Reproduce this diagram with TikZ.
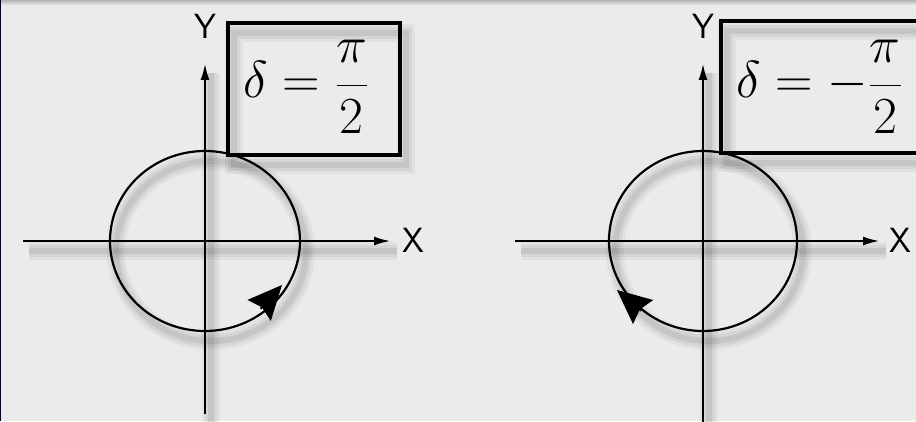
\documentclass[tikz,border=0pt]{standalone}
\usetikzlibrary{arrows.meta}
\definecolor{bg}{HTML}{EBEBEB}
\newcommand\bigmath[1]{\scalebox{2.09}{\fontsize{24.88}{30}\selectfont$#1$}}
\begin{document}
\begin{tikzpicture}[x=1pt,y=1pt,
  axis/.style={line width=2.6pt, -{Latex[length=17pt,width=9pt]}},
  orbit/.style={line width=2.2pt},
  sense/.style={line width=2.2pt, -{Stealth[length=34pt,width=31pt,inset=4pt]}},
  framebox/.style={line width=4.5pt},
  axlabel/.style={font=\fontsize{35}{35}\selectfont\sffamily, inner sep=0pt},
  eq/.style={inner sep=0pt, anchor=base west},
]
\useasboundingbox (0,0) rectangle (916,421);
\fill[bg] (0,0) rectangle (916,421);
\clip (0,0) rectangle (916,421);
\shade[top color=black!30, bottom color=bg] (0,416) rectangle (916,421);
\fill[black!80!blue] (0,0) rectangle (1.2,421);

% named points, left panel
\coordinate (L)   at (205,180);
\coordinate (Lxa) at (23,180);
\coordinate (Lxb) at (391,180);
\coordinate (Lya) at (205,7);
\coordinate (Lyb) at (205,358);
\coordinate (Lb1) at (228,398);
\coordinate (Lb2) at (400,266);
\coordinate (Lab) at (260.6,112.2);
\coordinate (Lat) at (282,136);
% named points, right panel
\coordinate (R)   at (703,180);
\coordinate (Rxa) at (515,180);
\coordinate (Rxb) at (880,180);
\coordinate (Rya) at (703,-2);
\coordinate (Ryb) at (703,358);
\coordinate (Rb1) at (721,400);
\coordinate (Rb2) at (940,268);
\coordinate (Rab) at (641.4,110.4);
\coordinate (Rat) at (617,131);

% soft shadows
\begin{scope}[transform canvas={shift={(6pt,-10pt)}}]
  \foreach \w/\o in {18/0.04,12/0.05,6/0.07} {
    \begin{scope}[line width=\w pt, draw=black, draw opacity=\o]
      \draw (Lxa) -- (Lxb);
      \draw (Lya) -- (Lyb);
      \draw (L) ellipse [x radius=95, y radius=90];
      \draw (Lb1) rectangle (Lb2);
      \draw (Rxa) -- (Rxb);
      \draw (Rya) -- (Ryb);
      \draw (R) ellipse [x radius=94, y radius=90];
      \draw (Rb1) rectangle (Rb2);
    \end{scope}
  }
\end{scope}

% left panel
\draw[axis] (Lxa) -- (Lxb);
\draw[axis] (Lya) -- (Lyb);
\draw[orbit] (L) ellipse [x radius=95, y radius=90];
\draw[sense] (Lab) -- (Lat);
\draw[framebox] (Lb1) rectangle (Lb2);
\node[axlabel] (LX) at (413,181) {X};
\node[axlabel] (LY) at (205,395) {Y};
\node[eq] (Leq) at (243,323) {\bigmath{\delta = \displaystyle\frac{\pi}{2}}};

% right panel
\draw[axis] (Rxa) -- (Rxb);
\draw[axis] (Rya) -- (Ryb);
\draw[orbit] (R) ellipse [x radius=94, y radius=90];
\draw[sense] (Rab) -- (Rat);
\draw[framebox] (Rb1) rectangle (Rb2);
\node[axlabel] (RX) at (900,181) {X};
\node[axlabel] (RY) at (703,395) {Y};
\node[eq] (Req) at (736,323) {\bigmath{\delta = -\displaystyle\frac{\pi}{2}}};
\end{tikzpicture}
\end{document}
